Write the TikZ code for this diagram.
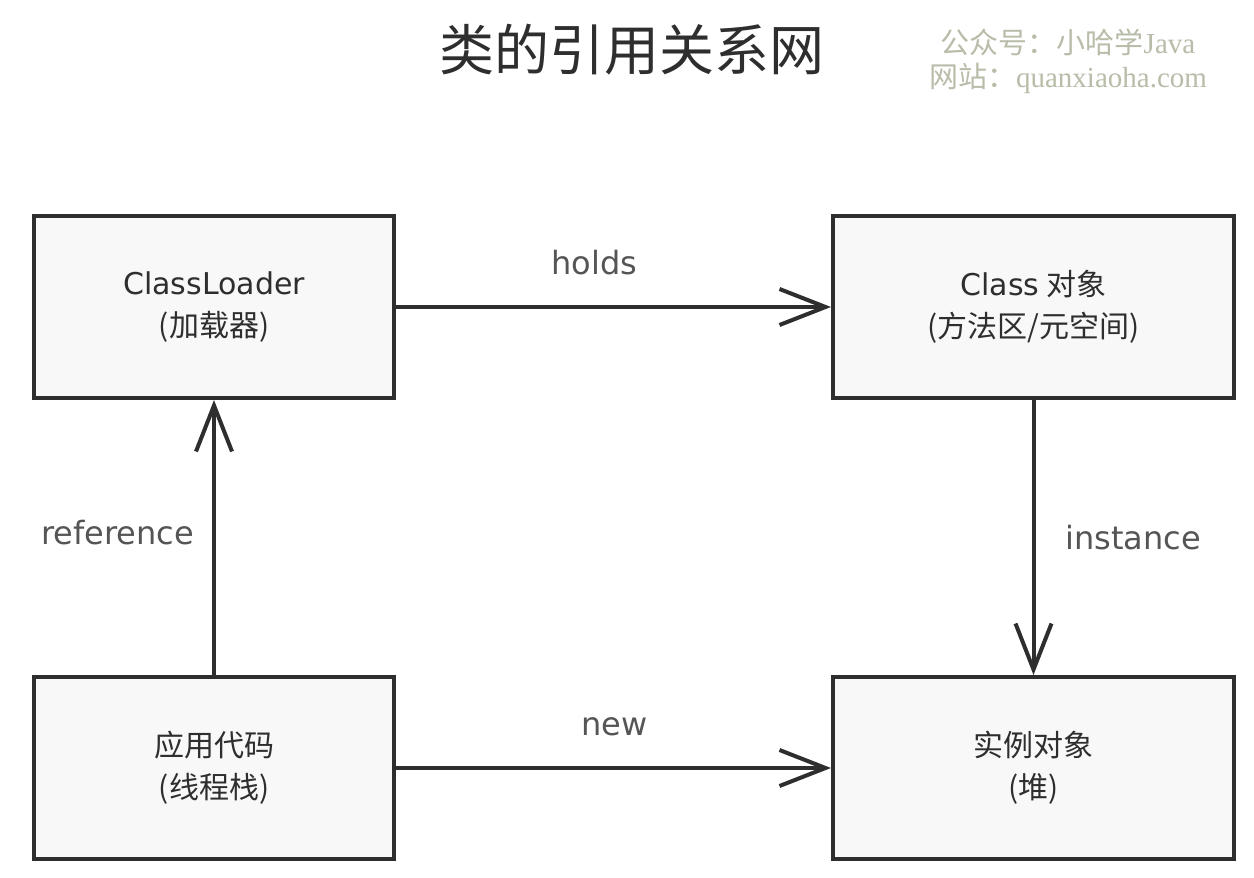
\documentclass[tikz,border=0pt]{standalone}
\usepackage{fontspec}
\setmainfont{Noto Sans CJK SC}
\newfontfamily\wmcjk{Noto Sans CJK SC}
\newfontfamily\wmlat{Liberation Serif}
\newfontfamily\hand{DejaVu Sans}
\usetikzlibrary{arrows.meta}
\definecolor{boxfill}{HTML}{F8F8F8}
\definecolor{ink}{HTML}{2E2E2E}
\definecolor{lblc}{HTML}{555555}
\definecolor{wm}{HTML}{B7BDA8}
\tikzset{
  box/.style={draw=ink, fill=boxfill, line width=4pt, minimum width=360pt, minimum height=182pt,
    inner sep=0pt, align=center, text=ink, font=\fontsize{30}{42}\selectfont},
  conn/.style={draw=ink, line width=4pt, -{Straight Barb[length=46pt,width=36pt,line width=4pt]}},
  lbl/.style={text=lblc, font=\hand\fontsize{32}{40}\selectfont, inner sep=0pt},
}
\begin{document}
\begin{tikzpicture}[x=1pt,y=-1pt]
\useasboundingbox[fill=white] (0,0) rectangle (1254,878);
\node[text=ink, font=\fontsize{55}{62}\selectfont] (title) at (632,50) {类的引用关系网};
\node[text=wm, align=center, font=\fontsize{29}{34}\selectfont] (wm) at (1068,61)
  {\wmcjk 公众号：小哈学\wmlat Java\\\wmcjk 网站：\wmlat quanxiaoha.com};
\node[box] (cl) at (214,307) {{\hand ClassLoader}\\(加载器)};
\node[box,minimum width=401pt] (co) at (1033.5,307) {{\hand Class} 对象\\(方法区/元空间)};
\node[box] (app) at (214,768) {应用代码\\(线程栈)};
\node[box,minimum width=401pt] (inst) at (1033.5,768) {实例对象\\(堆)};
\draw[conn] (cl.east) -- node[lbl, above=30pt, xshift=-19pt] (lh) {holds} (co.west);
\draw[conn] (co.south) -- node[lbl, right=30pt] (li) {instance} (inst.north);
\draw[conn] (app.north) -- node[lbl, left=18pt, yshift=5pt] (lr) {reference} (cl.south);
\draw[conn] (app.east) -- node[lbl, above=30pt, xshift=1pt] (ln) {new} (inst.west);
\end{tikzpicture}
\end{document}
